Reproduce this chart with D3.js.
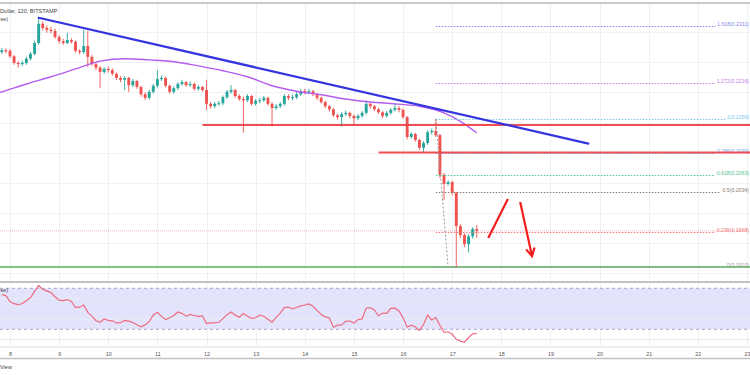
<!DOCTYPE html>
<html>
<head>
<meta charset="utf-8">
<script src="https://cdn.jsdelivr.net/npm/d3@7"></script>
<style>
  html, body { margin: 0; padding: 0; background: #fff; }
  svg { display: block; font-family: "Liberation Sans", Arial, sans-serif; }
</style>
</head>
<body>
<div id="chart"></div>
<script>
// XRP / USD, 2h candles, Bitstamp. first candle = Dec 7 20:00 UTC, one every 2h
const days = [8, 9, 10, 11, 12, 13, 14, 15, 16, 17, 18, 19, 20, 21, 22, 23];

const opens = [
  0.2267, 0.2270, 0.2269, 0.2260, 0.2249, 0.2247, 0.2249, 0.2256, 0.2264, 0.2282,
  0.2314, 0.2307, 0.2304, 0.2302, 0.2292, 0.2285, 0.2282, 0.2287, 0.2284, 0.2269,
  0.2267, 0.2277, 0.2259, 0.2247, 0.2241, 0.2234, 0.2239, 0.2237, 0.2231, 0.2224,
  0.2221, 0.2224, 0.2212, 0.2219, 0.2209, 0.2197, 0.2191, 0.2201, 0.2211, 0.2222,
  0.2224, 0.2211, 0.2201, 0.2207, 0.2214, 0.2217, 0.2212, 0.2214, 0.2206, 0.2209,
  0.2204, 0.2181, 0.2177, 0.2181, 0.2182, 0.2192, 0.2201, 0.2204, 0.2194, 0.2189,
  0.2187, 0.2194, 0.2181, 0.2186, 0.2187, 0.2191, 0.2181, 0.2174, 0.2177, 0.2181,
  0.2194, 0.2191, 0.2192, 0.2197, 0.2202, 0.2201, 0.2202, 0.2197, 0.2191, 0.2184,
  0.2177, 0.2172, 0.2162, 0.2159, 0.2164, 0.2166, 0.2161, 0.2157, 0.2161, 0.2166,
  0.2181, 0.2177, 0.2172, 0.2167, 0.2161, 0.2166, 0.2171, 0.2174, 0.2171, 0.2159,
  0.2126, 0.2131, 0.2121, 0.2108, 0.2116, 0.2134, 0.2136, 0.2129, 0.2063, 0.2048,
  0.2051, 0.2033, 0.1978, 0.1963, 0.1948, 0.1961, 0.1973,
];
const highs = [
  0.2274, 0.2273, 0.2272, 0.2262, 0.2252, 0.2253, 0.2259, 0.2267, 0.2286, 0.2324,
  0.2318, 0.2311, 0.2309, 0.2306, 0.2295, 0.2289, 0.2299, 0.2290, 0.2286, 0.2272,
  0.2304, 0.2302, 0.2262, 0.2250, 0.2244, 0.2242, 0.2243, 0.2240, 0.2233, 0.2227,
  0.2227, 0.2226, 0.2222, 0.2221, 0.2211, 0.2200, 0.2204, 0.2214, 0.2237, 0.2228,
  0.2226, 0.2213, 0.2210, 0.2217, 0.2221, 0.2219, 0.2218, 0.2216, 0.2212, 0.2211,
  0.2221, 0.2184, 0.2184, 0.2186, 0.2195, 0.2204, 0.2212, 0.2206, 0.2197, 0.2193,
  0.2197, 0.2196, 0.2189, 0.2191, 0.2194, 0.2193, 0.2184, 0.2181, 0.2184, 0.2197,
  0.2197, 0.2196, 0.2201, 0.2206, 0.2206, 0.2206, 0.2204, 0.2199, 0.2193, 0.2186,
  0.2179, 0.2174, 0.2164, 0.2167, 0.2170, 0.2168, 0.2163, 0.2164, 0.2169, 0.2187,
  0.2183, 0.2179, 0.2174, 0.2169, 0.2169, 0.2174, 0.2182, 0.2177, 0.2173, 0.2161,
  0.2134, 0.2133, 0.2123, 0.2119, 0.2137, 0.2140, 0.2156, 0.2131, 0.2066, 0.2054,
  0.2053, 0.2035, 0.1981, 0.1966, 0.1964, 0.1976, 0.1980,
];
const lows = [
  0.2264, 0.2265, 0.2257, 0.2246, 0.2241, 0.2244, 0.2246, 0.2253, 0.2262, 0.2279,
  0.2303, 0.2299, 0.2298, 0.2289, 0.2281, 0.2279, 0.2280, 0.2281, 0.2266, 0.2263,
  0.2264, 0.2242, 0.2244, 0.2237, 0.2207, 0.2231, 0.2233, 0.2228, 0.2221, 0.2217,
  0.2204, 0.2201, 0.2209, 0.2206, 0.2193, 0.2187, 0.2188, 0.2198, 0.2208, 0.2219,
  0.2208, 0.2198, 0.2198, 0.2204, 0.2211, 0.2209, 0.2209, 0.2203, 0.2203, 0.2201,
  0.2171, 0.2173, 0.2174, 0.2178, 0.2179, 0.2189, 0.2198, 0.2191, 0.2186, 0.2133,
  0.2184, 0.2178, 0.2178, 0.2182, 0.2184, 0.2178, 0.2143, 0.2171, 0.2174, 0.2178,
  0.2187, 0.2187, 0.2189, 0.2194, 0.2197, 0.2197, 0.2194, 0.2187, 0.2181, 0.2174,
  0.2168, 0.2159, 0.2155, 0.2143, 0.2161, 0.2157, 0.2146, 0.2154, 0.2158, 0.2163,
  0.2173, 0.2169, 0.2164, 0.2157, 0.2158, 0.2163, 0.2168, 0.2167, 0.2156, 0.2122,
  0.2123, 0.2118, 0.2104, 0.2100, 0.2113, 0.2130, 0.2126, 0.2058, 0.2021, 0.2045,
  0.2029, 0.1910, 0.1958, 0.1943, 0.1934, 0.1957, 0.1958,
];
const closes = [
  0.2270, 0.2269, 0.2260, 0.2249, 0.2247, 0.2249, 0.2256, 0.2264, 0.2282, 0.2314,
  0.2307, 0.2304, 0.2302, 0.2292, 0.2285, 0.2282, 0.2287, 0.2284, 0.2269, 0.2267,
  0.2277, 0.2259, 0.2247, 0.2241, 0.2234, 0.2239, 0.2237, 0.2231, 0.2224, 0.2221,
  0.2224, 0.2212, 0.2219, 0.2209, 0.2197, 0.2191, 0.2201, 0.2211, 0.2222, 0.2224,
  0.2211, 0.2201, 0.2207, 0.2214, 0.2217, 0.2212, 0.2214, 0.2206, 0.2209, 0.2204,
  0.2181, 0.2177, 0.2181, 0.2182, 0.2192, 0.2201, 0.2204, 0.2194, 0.2189, 0.2187,
  0.2194, 0.2181, 0.2186, 0.2187, 0.2191, 0.2181, 0.2174, 0.2177, 0.2181, 0.2194,
  0.2191, 0.2192, 0.2197, 0.2202, 0.2201, 0.2202, 0.2197, 0.2191, 0.2184, 0.2177,
  0.2172, 0.2162, 0.2159, 0.2164, 0.2166, 0.2161, 0.2157, 0.2161, 0.2166, 0.2181,
  0.2177, 0.2172, 0.2167, 0.2161, 0.2166, 0.2171, 0.2174, 0.2171, 0.2159, 0.2126,
  0.2131, 0.2121, 0.2108, 0.2116, 0.2134, 0.2136, 0.2129, 0.2063, 0.2048, 0.2051,
  0.2033, 0.1978, 0.1963, 0.1948, 0.1961, 0.1973, 0.1970,
];

// moving average (candle number, value)
const maCandle = [-1, 0, 6, 12, 18, 24, 30, 36, 42, 48, 54, 60, 66, 72, 78, 84, 90, 96, 102, 108, 112, 116];
const maValue = [0.2199, 0.2201, 0.2214, 0.2226, 0.2239, 0.2252, 0.2256, 0.2254, 0.2251, 0.2244, 0.2236,
  0.2226, 0.2211, 0.2202, 0.2196, 0.2189, 0.2184, 0.2181, 0.2177, 0.2166, 0.2152, 0.2133];

const rsi = [
  63.8, 62.9, 57.0, 55.0, 54.0, 55.2, 57.9, 61.0, 67.0, 72.8,
  68.8, 67.5, 65.8, 61.8, 58.5, 58.0, 59.0, 57.2, 51.3, 51.6,
  53.7, 46.5, 42.8, 38.4, 36.9, 40.1, 38.7, 38.3, 36.2, 36.4,
  38.7, 37.9, 36.6, 34.4, 32.5, 34.3, 37.4, 44.0, 46.6, 42.6,
  39.4, 41.3, 43.4, 46.9, 45.6, 42.8, 44.6, 43.5, 42.6, 43.1,
  35.6, 36.2, 36.5, 36.9, 40.4, 44.3, 46.9, 43.8, 41.7, 45.5,
  42.8, 40.6, 41.3, 43.8, 42.7, 39.9, 37.0, 41.6, 45.7, 51.1,
  51.7, 50.0, 51.3, 52.9, 53.7, 54.8, 52.5, 48.4, 44.5, 42.1,
  41.0, 32.0, 34.0, 34.3, 37.7, 38.1, 36.0, 39.4, 40.0, 50.8,
  51.0, 48.9, 43.2, 45.8, 45.6, 50.4, 50.6, 47.9, 41.3, 32.3,
  34.1, 32.3, 28.9, 34.7, 43.8, 39.1, 41.5, 34.0, 27.0, 27.6,
  25.1, 20.2, 18.5, 17.4, 22.0, 25.5, 26.1,
];
const rsiBand = [70, 30];
const rsiGrid = [20, 40, 60, 80];

// drawings: [time, price]
const trendLine = [[Date.UTC(2019, 11, 8, 14), 0.2324], [Date.UTC(2019, 11, 19, 18, 30), 0.2115]];
const resistance = [[Date.UTC(2019, 11, 11, 22), 0.2146], [Date.UTC(2019, 11, 15, 12), 0.2100]];
const support = 0.1910;
const upMove = [[Date.UTC(2019, 11, 17, 17, 36), 0.1958], [Date.UTC(2019, 11, 18, 3, 12), 0.2023]];
const downMove = [[Date.UTC(2019, 11, 18, 9, 12), 0.2018], [Date.UTC(2019, 11, 18, 15), 0.1928]];

const fibRatios = ['1.618', '1.272', '1', '0.786', '0.618', '0.5', '0.236', '0'];
const fibPrices = [0.2311, 0.2216, 0.2156, 0.2099, 0.2063, 0.2034, 0.1968, 0.1910];
const fibAnchors = [[Date.UTC(2019, 11, 16, 16), 0.2156], [Date.UTC(2019, 11, 16, 22), 0.1910]];
const fibColors = ['#8088ec', '#c47ce8', '#7cc6ee', '#6fb0ec', '#52c48e', '#8c7a74', '#f27878', '#9a9a9a'];

const UP = '#26a69a';
const DOWN = '#ef5350';
const FIRST = Date.UTC(2019, 11, 7, 20);
const candleTime = (k) => new Date(FIRST + k * 2 * 3600000);

const width = 750;
const height = 375;
const main = { top: 4, bottom: 281 };
const lower = { top: 283, bottom: 346 };

const svg = d3.select('#chart').append('svg').attr('width', width).attr('height', height);
const defs = svg.append('defs');
defs.append('clipPath').attr('id', 'clip-main').append('rect')
  .attr('x', 0).attr('y', main.top).attr('width', width).attr('height', main.bottom - main.top);
defs.append('clipPath').attr('id', 'clip-rsi').append('rect')
  .attr('x', 0).attr('y', lower.top).attr('width', width).attr('height', lower.bottom - lower.top);

const x = d3.scaleUtc().domain([Date.UTC(2019, 11, 8), Date.UTC(2019, 11, 23)]).range([10, 747]);
const y = d3.scaleLinear().domain([0.19, 0.235]).range([273, 2.1]);
const yR = d3.scaleLinear().domain([30, 70]).range([329.3, 288.3]);

// grid
const grid = svg.append('g').attr('stroke', '#eef1f6').attr('stroke-width', 1);
days.forEach((d) => {
  const gx = Math.round(x(Date.UTC(2019, 11, d))) + 0.5;
  grid.append('line').attr('x1', gx).attr('x2', gx).attr('y1', main.top).attr('y2', lower.bottom);
});
y.ticks(9).forEach((v) => {
  const gy = Math.round(y(v)) + 0.5;
  if (gy > main.top && gy < main.bottom) grid.append('line').attr('x1', 0).attr('x2', width).attr('y1', gy).attr('y2', gy);
});

// rsi pane background
const rsiG = svg.append('g');
rsiG.append('rect').attr('x', 0).attr('width', width)
  .attr('y', yR(rsiBand[0])).attr('height', yR(rsiBand[1]) - yR(rsiBand[0])).attr('fill', '#e3e3fb');
rsiGrid.forEach((v) => {
  if (yR(v) > lower.top && yR(v) < lower.bottom) {
    rsiG.append('line').attr('x1', 0).attr('x2', width).attr('y1', yR(v)).attr('y2', yR(v))
      .attr('stroke', '#e9ecf4').attr('stroke-width', 1);
  }
});
rsiBand.forEach((v) => {
  rsiG.append('line').attr('x1', 0).attr('x2', width).attr('y1', yR(v)).attr('y2', yR(v))
    .attr('stroke', '#a7a7c6').attr('stroke-width', 1).attr('stroke-dasharray', '3,3');
});
rsiG.append('path')
  .datum(rsi)
  .attr('clip-path', 'url(#clip-rsi)')
  .attr('fill', 'none').attr('stroke', '#ee6b80').attr('stroke-width', 1.2)
  .attr('d', d3.line().x((d, k) => x(candleTime(k))).y((d) => yR(d)));

// main pane
const plot = svg.append('g').attr('clip-path', 'url(#clip-main)');

// support + last price lines
plot.append('line').attr('x1', 0).attr('x2', width).attr('y1', y(support)).attr('y2', y(support))
  .attr('stroke', '#5cb85f').attr('stroke-opacity', 0.8).attr('stroke-width', 2);
const last = closes[closes.length - 1];
plot.append('line').attr('x1', 0).attr('x2', width).attr('y1', y(last)).attr('y2', y(last))
  .attr('stroke', DOWN).attr('stroke-opacity', 0.45).attr('stroke-width', 1).attr('stroke-dasharray', '1,1');

// candles
const bodyW = 2.9;
closes.forEach((c, k) => {
  const o = opens[k];
  const cx = x(candleTime(k));
  const col = c >= o ? UP : DOWN;
  plot.append('line').attr('x1', cx).attr('x2', cx).attr('y1', y(highs[k])).attr('y2', y(lows[k]))
    .attr('stroke', col).attr('stroke-width', 0.9);
  const top = y(Math.max(o, c));
  plot.append('rect').attr('x', cx - bodyW / 2).attr('y', top).attr('width', bodyW)
    .attr('height', Math.max(1, y(Math.min(o, c)) - top)).attr('fill', col);
});

// moving average
plot.append('path')
  .datum(maCandle.map((k, j) => [k, maValue[j]]))
  .attr('fill', 'none').attr('stroke', '#b45cf0').attr('stroke-width', 1.4)
  .attr('d', d3.line().x((d) => x(candleTime(d[0]))).y((d) => y(d[1])).curve(d3.curveMonotoneX));

// fibonacci levels
const fibX0 = x(fibAnchors[0][0]);
const labelRight = 749;
fibPrices.forEach((p, j) => {
  const ly = Math.round(y(p)) + 0.5;
  const t = plot.append('text').attr('x', labelRight).attr('y', ly - 0.8).attr('text-anchor', 'end')
    .attr('font-size', 5.2).attr('fill', fibColors[j]).text(`${fibRatios[j]}(${p.toFixed(4)})`);
  const tx = labelRight - t.node().getComputedTextLength() - 1.5;
  plot.append('line').attr('x1', fibX0).attr('x2', tx).attr('y1', ly).attr('y2', ly)
    .attr('stroke', fibColors[j]).attr('stroke-width', 1).attr('stroke-dasharray', '1.5,1.5');
});
plot.append('line')
  .attr('x1', x(fibAnchors[0][0])).attr('y1', y(fibAnchors[0][1]))
  .attr('x2', x(fibAnchors[1][0])).attr('y2', y(fibAnchors[1][1]))
  .attr('stroke', '#9a9a9a').attr('stroke-width', 1).attr('stroke-dasharray', '2,2');

// horizontal resistance
resistance.forEach(([t, p]) => {
  plot.append('line').attr('x1', x(t)).attr('x2', width).attr('y1', y(p)).attr('y2', y(p))
    .attr('stroke', '#f03c44').attr('stroke-opacity', 0.9).attr('stroke-width', 2);
});

// descending trend line
plot.append('line')
  .attr('x1', x(trendLine[0][0])).attr('y1', y(trendLine[0][1]))
  .attr('x2', x(trendLine[1][0])).attr('y2', y(trendLine[1][1]))
  .attr('stroke', '#3434e0').attr('stroke-width', 2.2).attr('stroke-linecap', 'round');

// red move arrows
const arrowCol = '#f21d1d';
plot.append('line')
  .attr('x1', x(upMove[0][0])).attr('y1', y(upMove[0][1]))
  .attr('x2', x(upMove[1][0])).attr('y2', y(upMove[1][1]))
  .attr('stroke', arrowCol).attr('stroke-width', 2.2);
const ax0 = x(downMove[0][0]);
const ay0 = y(downMove[0][1]);
const ax1 = x(downMove[1][0]);
const ay1 = y(downMove[1][1]);
plot.append('line').attr('x1', ax0).attr('y1', ay0).attr('x2', ax1).attr('y2', ay1)
  .attr('stroke', arrowCol).attr('stroke-width', 2.2);
const ang = Math.atan2(ay1 - ay0, ax1 - ax0);
const head = 9;
const spread = 0.5;
plot.append('path')
  .attr('d', `M${ax1 - head * Math.cos(ang - spread)},${ay1 - head * Math.sin(ang - spread)}`
    + `L${ax1},${ay1}L${ax1 - head * Math.cos(ang + spread)},${ay1 - head * Math.sin(ang + spread)}`)
  .attr('fill', 'none').attr('stroke', arrowCol).attr('stroke-width', 2.2).attr('stroke-linejoin', 'miter');

// pane borders
svg.append('line').attr('x1', 0).attr('x2', width).attr('y1', 3).attr('y2', 3).attr('stroke', '#b9b9b9').attr('stroke-width', 1.5);
svg.append('line').attr('x1', 0).attr('x2', width).attr('y1', 282).attr('y2', 282).attr('stroke', '#c2c2c2').attr('stroke-width', 2);
svg.append('line').attr('x1', 0).attr('x2', width).attr('y1', 347).attr('y2', 347).attr('stroke', '#dedede').attr('stroke-width', 1);
svg.append('line').attr('x1', 0).attr('x2', width).attr('y1', 358.5).attr('y2', 358.5).attr('stroke', '#c2c2c2').attr('stroke-width', 1.5);

// time axis
const axis = svg.append('g').attr('transform', 'translate(0,355.5)')
  .call(d3.axisBottom(x)
    .tickValues(days.map((d) => new Date(Date.UTC(2019, 11, d))))
    .tickFormat(d3.utcFormat('%-d'))
    .tickSize(0));
axis.select('.domain').remove();
axis.selectAll('text').attr('y', 0).attr('dy', 0).attr('font-size', 5.4).attr('fill', '#555')
  .attr('font-family', '"Liberation Sans", Arial, sans-serif');

// legend fragments, as far as the cropped screenshot shows them
svg.append('text').attr('x', 0).attr('y', 13).attr('font-size', 5.6).attr('fill', '#444')
  .text('Dollar, 120, BITSTAMP');
svg.append('text').attr('x', 0.3).attr('y', 20.5).attr('font-size', 5.6).attr('fill', '#444')
  .text('se)');
svg.append('text').attr('x', 0.3).attr('y', 292).attr('font-size', 5.6).attr('fill', '#444')
  .text('se)');
svg.append('text').attr('x', 0).attr('y', 369).attr('font-size', 5.6).attr('fill', '#444')
  .text('View');
</script>
</body>
</html>
